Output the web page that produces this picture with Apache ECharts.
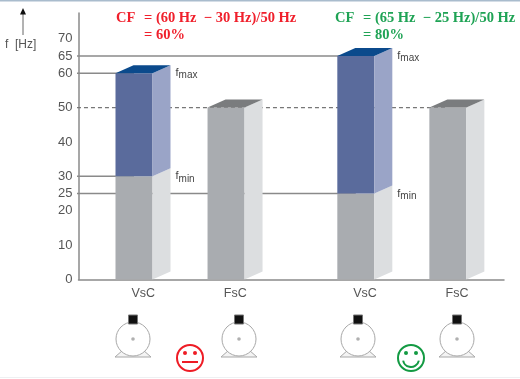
<!DOCTYPE html>
<html>
<head>
<meta charset="utf-8">
<style>
html, body { margin: 0; padding: 0; background: #fff; }
#chart { width: 520px; height: 379px; }
</style>
<script src="https://cdn.jsdelivr.net/npm/echarts@6/dist/echarts.min.js"></script>
</head>
<body>
<div id="chart"></div>
<script>
// bars
const barNames = ['VsC', 'FsC', 'VsC', 'FsC']
const barSlots = [1, 2, 3.41, 4.41]
// names sit under the whole 3d bar, not only its front face
const labelSlots = [1.1, 2.1, 3.51, 4.51]
const fMin = [30, 50, 25, 50]
const fMax = [60, 50, 65, 50]
const yTicks = [0, 10, 20, 25, 30, 40, 50, 60, 65, 70]

// guide lines: [slot, value]
const guide60 = [[0, 60], [1, 60]]
const guide65 = [[0, 65], [3.41, 65]]
const guide50 = [[0, 50], [4.41, 50]]
const guide30 = [[0, 30], [1, 30]]
const guide25 = [[0, 25], [3.41, 25]]

const barData = barSlots.map((s, i) => [s, fMin[i], fMax[i]])

const xMin = 0.397
const xMax = 5.02
const barW = 37
const depthX = 18
const depthY = 8

const colors = {
  blueFront: '#5a6b9c', blueSide: '#9aa4c7', blueTop: '#0b4a8c',
  greyFront: '#a9acb0', greySide: '#dcdee0', greyTop: '#7a7c7e'
}

function poly(points, fill) {
  return { type: 'polygon', shape: { points: points }, style: { fill: fill } }
}

function subLabel(x, y, sub) {
  return {
    type: 'text', x: x, y: y,
    style: {
      text: '{a|f}{b|' + sub + '}',
      verticalAlign: 'middle',
      rich: {
        a: { fontSize: 11, fill: '#444', fontFamily: 'Liberation Sans' },
        b: { fontSize: 10, fill: '#444', fontFamily: 'Liberation Sans', verticalAlign: 'bottom', padding: [5, 0, 0, 0] }
      }
    }
  }
}

function renderBar(params, api) {
  const slot = api.value(0)
  const lo = api.value(1)
  const hi = api.value(2)
  const base = api.coord([slot, 0])
  const pLo = api.coord([slot, lo])
  const pHi = api.coord([slot, hi])
  const l = base[0] - barW / 2
  const r = l + barW
  const b = base[1]
  const m = pLo[1]
  const t = pHi[1]
  const kids = []
  // grey lower part
  kids.push(poly([[l, b], [r, b], [r, m], [l, m]], colors.greyFront))
  kids.push(poly([[r, b], [r + depthX, b - depthY], [r + depthX, m - depthY], [r, m]], colors.greySide))
  if (hi > lo) {
    // variable part
    kids.push(poly([[l, m], [r, m], [r, t], [l, t]], colors.blueFront))
    kids.push(poly([[r, m], [r + depthX, m - depthY], [r + depthX, t - depthY], [r, t]], colors.blueSide))
    kids.push(poly([[l, t], [r, t], [r + depthX, t - depthY], [l + depthX, t - depthY]], colors.blueTop))
    kids.push(subLabel(r + 23, t, 'max'))
    kids.push(subLabel(r + 23, m, 'min'))
  } else {
    kids.push(poly([[l, t], [r, t], [r + depthX, t - depthY], [l + depthX, t - depthY]], colors.greyTop))
  }
  return { type: 'group', children: kids }
}

function guideSeries(data, dashed) {
  return {
    type: 'line', data: data, showSymbol: false, silent: true, z: 1,
    lineStyle: { color: dashed ? '#777' : '#8a8a8a', width: dashed ? 1.2 : 1.5, type: dashed ? [4, 3] : 'solid' }
  }
}

// little motor icon
function motor(cx) {
  const cy = 339
  return [
    { type: 'polygon', shape: { points: [[cx - 18, 357], [cx - 10, 350], [cx + 10, 350], [cx + 18, 357]] },
      style: { fill: '#f4f4f4', stroke: '#a8a8a8', lineWidth: 1 } },
    { type: 'circle', shape: { cx: cx, cy: cy, r: 17 }, style: { fill: '#fff', stroke: '#a8a8a8', lineWidth: 1 } },
    { type: 'circle', shape: { cx: cx, cy: cy, r: 1.8 }, style: { fill: '#b0b0b0' } },
    { type: 'rect', shape: { x: cx - 4.5, y: 315, width: 9, height: 9 }, style: { fill: '#111', stroke: '#777', lineWidth: 1 } }
  ]
}

function smiley(cx, color, happy) {
  const cy = 358
  const face = [
    { type: 'circle', shape: { cx: cx, cy: cy, r: 13 }, style: { fill: '#fff', stroke: color, lineWidth: 2 } },
    { type: 'circle', shape: { cx: cx - 5, cy: cy - 5, r: 2 }, style: { fill: color } },
    { type: 'circle', shape: { cx: cx + 5, cy: cy - 5, r: 2 }, style: { fill: color } }
  ]
  if (happy) {
    face.push({ type: 'arc', shape: { cx: cx, cy: cy + 1, r: 8, startAngle: 0.2, endAngle: Math.PI - 0.2 },
      style: { stroke: color, lineWidth: 2, fill: 'none' } })
  } else {
    face.push({ type: 'line', shape: { x1: cx - 8, y1: cy + 4, x2: cx + 8, y2: cy + 4 }, style: { stroke: color, lineWidth: 2 } })
  }
  return face
}

function cfText(x, y, text, color) {
  return {
    type: 'text', x: x, y: y,
    style: { text: text, fill: color, fontFamily: 'Liberation Serif', fontWeight: 'bold', fontSize: 14.5, verticalAlign: 'middle' }
  }
}

const myChart = echarts.init(document.getElementById('chart'), null, { renderer: 'canvas' })
let option = {
  backgroundColor: '#fff',
  animation: false,
  grid: { left: 78.5, right: 16, top: 13, bottom: 99.5 },
  xAxis: {
    type: 'value', min: xMin, max: xMax, splitLine: { show: false },
    axisLine: { onZero: false, lineStyle: { color: '#8a8a8a', width: 1.5 } },
    axisTick: { show: false },
    axisLabel: {
      customValues: labelSlots,
      margin: 8,
      color: '#555', fontSize: 12.5, fontFamily: 'Liberation Sans',
      formatter: function (val) {
        return barNames[labelSlots.indexOf(val)]
      }
    }
  },
  yAxis: {
    type: 'value', min: 0, max: 77.5, splitLine: { show: false },
    axisLine: { show: true, onZero: false, lineStyle: { color: '#8a8a8a', width: 1.5 } },
    axisTick: { show: false },
    axisLabel: {
      customValues: yTicks, margin: 6,
      color: '#555', fontSize: 13, fontFamily: 'Liberation Sans'
    }
  },
  series: [
    guideSeries(guide60), guideSeries(guide65), guideSeries(guide30), guideSeries(guide25),
    guideSeries(guide50, true),
    {
      type: 'custom', data: barData, renderItem: renderBar, z: 5, silent: true,
      clip: false, encode: { x: 0, y: [1, 2] }
    }
  ],
  graphic: [
    { type: 'rect', shape: { x: 0, y: 0, width: 520, height: 1.5 }, style: { fill: '#a9bccd' } },
    { type: 'rect', shape: { x: 0, y: 377, width: 520, height: 1 }, style: { fill: '#eef0f2' } },
    { type: 'line', shape: { x1: 23, y1: 35, x2: 23, y2: 14 }, style: { stroke: '#666', lineWidth: 1 } },
    { type: 'polygon', shape: { points: [[23, 8], [26, 14.5], [20, 14.5]] }, style: { fill: '#111' } },
    { type: 'text', x: 5, y: 45, style: { text: 'f  [Hz]', fill: '#555', fontSize: 12, fontFamily: 'Liberation Sans', verticalAlign: 'middle' } },
    cfText(116, 18, 'CF', '#f0202c'),
    cfText(144, 18, '= (60 Hz  \u2212 30 Hz)/50 Hz', '#f0202c'),
    cfText(144, 35, '= 60%', '#f0202c'),
    cfText(335, 18, 'CF', '#1fa355'),
    cfText(363, 18, '= (65 Hz  \u2212 25 Hz)/50 Hz', '#1fa355'),
    cfText(363, 35, '= 80%', '#1fa355')
  ].concat(motor(133), motor(239), motor(358), motor(457),
    smiley(190, '#ee1c25', false), smiley(411, '#139a43', true))
}
myChart.setOption(option)
</script>
</body>
</html>
